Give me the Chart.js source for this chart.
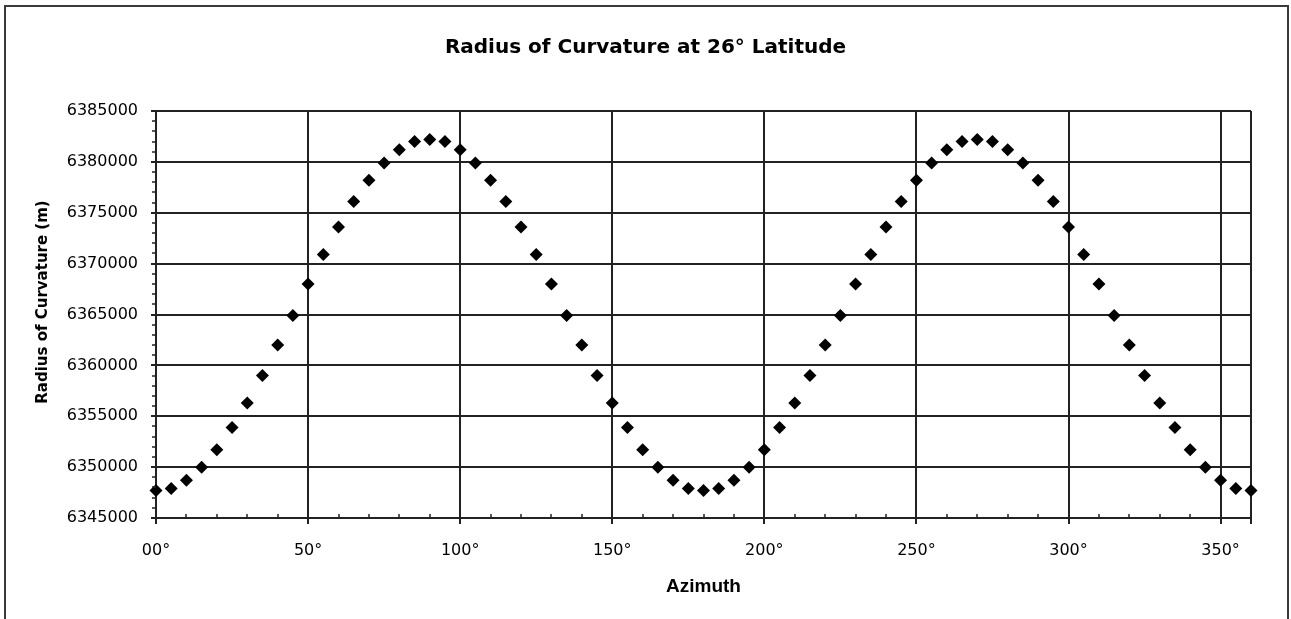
<!DOCTYPE html>
<html>
<head>
<meta charset="utf-8">
<script src="https://cdn.jsdelivr.net/npm/chart.js@4.4.1/dist/chart.umd.min.js"></script>
<style>
  html, body { margin: 0; padding: 0; background: #fff; overflow: hidden; }
  #wrap { position: relative; width: 1291px; height: 619px; }
  #frame { position: absolute; left: 4px; top: 5px; width: 1285px; height: 700px; border: 2px solid #3a3a3a; pointer-events: none; box-sizing: border-box; }
  canvas { position: absolute; left: 0; top: 0; }
</style>
</head>
<body>
<div id="wrap">
  <canvas id="c" width="1291" height="619"></canvas>
  <div id="frame"></div>
</div>
<script>
const chartTitle = 'Radius of Curvature at 26\u00B0 Latitude';
const xAxisTitle = 'Azimuth';
const yAxisTitle = 'Radius of Curvature (m)';

const azimuth = [0,5,10,15,20,25,30,35,40,45,50,55,60,65,70,75,80,85,90,
  95,100,105,110,115,120,125,130,135,140,145,150,155,160,165,170,175,180,
  185,190,195,200,205,210,215,220,225,230,235,240,245,250,255,260,265,270,
  275,280,285,290,295,300,305,310,315,320,325,330,335,340,345,350,355,360];

const radius = [6347700,6347900,6348700,6350000,6351700,6353900,6356300,6359000,6362000,6364900,6368000,6370900,6373600,6376100,6378200,6379900,6381200,6382000,6382200,
  6382000,6381200,6379900,6378200,6376100,6373600,6370900,6368000,6364900,6362000,6359000,6356300,6353900,6351700,6350000,6348700,6347900,6347700,
  6347900,6348700,6350000,6351700,6353900,6356300,6359000,6362000,6364900,6368000,6370900,6373600,6376100,6378200,6379900,6381200,6382000,6382200,
  6382000,6381200,6379900,6378200,6376100,6373600,6370900,6368000,6364900,6362000,6359000,6356300,6353900,6351700,6350000,6348700,6347900,6347700];

const xTickValues = [0,50,100,150,200,250,300,350];
const xTickLabels = ['00\u00B0','50\u00B0','100\u00B0','150\u00B0','200\u00B0','250\u00B0','300\u00B0','350\u00B0'];
const yTickLabels = ['6345000','6350000','6355000','6360000','6365000','6370000','6375000','6380000','6385000'];

const points = azimuth.map((a, i) => ({x: a, y: radius[i]}));

const minorTicks = {
  id: 'minorTicks',
  afterDraw(chart) {
    const ctx = chart.ctx;
    const xs = chart.scales.x, ys = chart.scales.y;
    const a = chart.chartArea;
    ctx.save();
    ctx.strokeStyle = '#222';
    ctx.lineWidth = 1.5;
    ctx.beginPath();
    for (let v = 6345000; v <= 6385000; v += 1000) {
      if (v % 5000 === 0) continue;
      const py = Math.round(ys.getPixelForValue(v));
      ctx.moveTo(a.left - 4, py); ctx.lineTo(a.left, py);
    }
    for (let v = 0; v <= 360; v += 10) {
      if (v % 50 === 0) continue;
      const px = Math.round(xs.getPixelForValue(v));
      ctx.moveTo(px, a.bottom - 4); ctx.lineTo(px, a.bottom);
    }
    ctx.stroke();
    // y axis title
    ctx.fillStyle = '#000';
    ctx.font = 'bold 15px "DejaVu Sans", sans-serif';
    ctx.textAlign = 'center';
    ctx.textBaseline = 'middle';
    ctx.translate(43, 302);
    ctx.rotate(-Math.PI / 2);
    ctx.fillText(yAxisTitle, 0, 0);
    ctx.restore();
  }
};

new Chart(document.getElementById('c'), {
  type: 'scatter',
  data: {
    datasets: [{
      data: points,
      pointStyle: 'rectRot',
      pointRadius: 6.5,
      pointHoverRadius: 6.5,
      backgroundColor: '#000',
      borderColor: '#000',
      borderWidth: 0,
      clip: false
    }]
  },
  options: {
    responsive: false,
    animation: false,
    events: [],
    layout: { padding: { left: 40, right: 40, top: 0, bottom: 0 } },
    plugins: {
      legend: { display: false },
      tooltip: { enabled: false },
      title: {
        display: true,
        text: chartTitle,
        color: '#000',
        font: { family: '"DejaVu Sans", sans-serif', size: 20, weight: 'bold', lineHeight: 1.2 },
        padding: { top: 35.5, bottom: 51.5 }
      }
    },
    scales: {
      x: {
        type: 'linear',
        min: 0, max: 360,
        afterFit(s) { s.height = 101; },
        afterBuildTicks(s) { s.ticks = xTickValues.concat([360]).map(v => ({value: v})); },
        ticks: {
          color: '#000',
          padding: 17,
          maxRotation: 0,
          font: { family: '"DejaVu Sans", sans-serif', size: 16 },
          callback(v) { const i = xTickValues.indexOf(v); return i >= 0 ? xTickLabels[i] : ''; }
        },
        grid: { color: '#222', lineWidth: 2, tickLength: 6, drawTicks: true },
        border: { color: '#222', width: 2 },
        title: {
          display: true,
          text: xAxisTitle,
          color: '#000',
          font: { family: '"Liberation Sans", Arial, sans-serif', size: 19, weight: 'bold', lineHeight: 1.2 },
          padding: { top: 0, bottom: 21 }
        }
      },
      y: {
        type: 'linear',
        min: 6345000, max: 6385000,
        afterFit(s) { s.width = 116; },
        afterBuildTicks(s) { s.ticks = yTickLabels.map(t => ({value: Number(t)})); },
        ticks: {
          color: '#000',
          padding: 13,
          font: { family: '"DejaVu Sans", sans-serif', size: 16 },
          callback(v) { const i = yTickLabels.indexOf(String(v)); return i >= 0 ? yTickLabels[i] : ''; }
        },
        grid: { color: '#222', lineWidth: 2, tickLength: 5, drawTicks: true },
        border: { color: '#222', width: 2 }
      }
    }
  },
  plugins: [minorTicks]
});
</script>
</body>
</html>
